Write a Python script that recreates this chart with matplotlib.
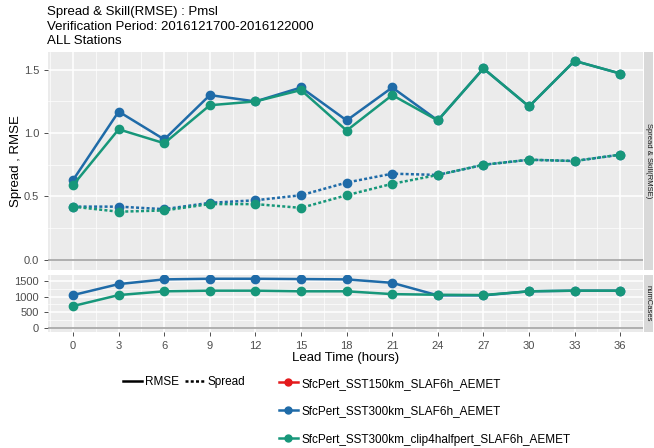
import numpy as np
import matplotlib
matplotlib.use('Agg')
import matplotlib.pyplot as plt
from matplotlib.lines import Line2D
from matplotlib.ticker import MultipleLocator

plt.rcParams['font.family'] = ['Liberation Sans', 'DejaVu Sans']

# ============================================================================
# DATA
# ============================================================================

lead_time = [0, 3, 6, 9, 12, 15, 18, 21, 24, 27, 30, 33, 36]

experiments = ['SfcPert_SST150km_SLAF6h_AEMET',
               'SfcPert_SST300km_SLAF6h_AEMET',
               'SfcPert_SST300km_clip4halfpert_SLAF6h_AEMET']
colors = ['#e41a1c', '#1f6ba8', '#17977a']

rmse_300 = [0.63, 1.17, 0.95, 1.30, 1.25, 1.36, 1.10, 1.36, 1.10, 1.51, 1.21, 1.57, 1.47]
rmse_clip = [0.59, 1.03, 0.92, 1.22, 1.25, 1.34, 1.02, 1.30, 1.10, 1.51, 1.21, 1.57, 1.47]

spread_300 = [0.42, 0.42, 0.40, 0.45, 0.47, 0.51, 0.61, 0.68, 0.67, 0.75, 0.79, 0.78, 0.83]
spread_clip = [0.42, 0.38, 0.39, 0.44, 0.44, 0.41, 0.51, 0.60, 0.67, 0.75, 0.79, 0.78, 0.83]

cases_300 = [1050, 1400, 1550, 1570, 1570, 1560, 1550, 1440, 1040, 1040, 1170, 1190, 1190]
cases_clip = [700, 1050, 1170, 1190, 1190, 1170, 1170, 1080, 1060, 1050, 1170, 1190, 1190]

# ============================================================================
# FIGURE
# ============================================================================

W, H = 654, 448
fig = plt.figure(figsize=(W / 100, H / 100), dpi=100)


def px_axes(x0, y0, x1, y1):
    return fig.add_axes([x0 / W, 1 - y1 / H, (x1 - x0) / W, (y1 - y0) / H])


panel_bg = '#ebebeb'
strip_bg = '#d9d9d9'
tick_col = '#4d4d4d'

ax1 = px_axes(48, 52, 643, 270)
ax2 = px_axes(48, 275, 643, 332)

for ax in (ax1, ax2):
    ax.set_facecolor(panel_bg)
    for s in ax.spines.values():
        s.set_visible(False)
    ax.set_xlim(-1.65, 37.5)
    ax.set_xticks(lead_time)
    ax.xaxis.set_minor_locator(MultipleLocator(1.5))
    ax.grid(which='major', color='white', lw=1.1)
    ax.grid(which='minor', color='white', lw=0.5)
    ax.set_axisbelow(True)
    ax.tick_params(which='major', colors='#333333', labelcolor=tick_col,
                   labelsize=8, length=3, width=0.6)
    ax.tick_params(which='minor', length=0)
    ax.axhline(0, color='#9a9a9a', lw=1.1, zorder=1.5)

mk = dict(marker='o', markersize=6, lw=1.8)

# top panel: RMSE (solid) and spread (dotted)
ax1.plot(lead_time, rmse_300, color=colors[1], **mk)
ax1.plot(lead_time, spread_300, color=colors[1], ls=(0, (1.2, 0.9)), **mk)
ax1.plot(lead_time, rmse_clip, color=colors[2], **mk)
ax1.plot(lead_time, spread_clip, color=colors[2], ls=(0, (1.2, 0.9)), **mk)
ax1.set_ylim(-0.08, 1.64)
ax1.set_yticks([0.0, 0.5, 1.0, 1.5])
ax1.set_yticklabels(['0.0', '0.5', '1.0', '1.5'])
ax1.yaxis.set_minor_locator(MultipleLocator(0.25))
ax1.tick_params(axis='x', labelbottom=False, length=0)
ax1.set_ylabel('Spread , RMSE', fontsize=9.5, labelpad=1)

# bottom panel: number of cases
ax2.plot(lead_time, cases_300, color=colors[1], **mk)
ax2.plot(lead_time, cases_clip, color=colors[2], **mk)
ax2.set_ylim(-128, 1690)
ax2.set_yticks([0, 500, 1000, 1500])
ax2.yaxis.set_minor_locator(MultipleLocator(250))
ax2.set_xlabel('Lead Time (hours)', fontsize=9.5, labelpad=1)

# facet strips on the right
for (y0, y1, label) in [(52, 270, 'Spread & Skill(RMSE)'), (275, 332, 'numCases')]:
    sax = px_axes(644, y0, 653, y1)
    sax.set_facecolor(strip_bg)
    sax.set_xticks([])
    sax.set_yticks([])
    for s in sax.spines.values():
        s.set_visible(False)
    sax.text(0.5, 0.5, label, rotation=-90, ha='center', va='center',
             fontsize=5.5, color='#1a1a1a', transform=sax.transAxes)

# title
fig.text(47 / W, 1 - 12 / H, 'Spread & Skill(RMSE) : Pmsl', fontsize=9.5, va='center')
fig.text(47 / W, 1 - 27 / H, 'Verification Period: 2016121700-2016122000', fontsize=9.5, va='center')
fig.text(47 / W, 1 - 41 / H, 'ALL Stations', fontsize=9.5, va='center')

# legends
lt_handles = [Line2D([], [], color='black', lw=1.8),
              Line2D([], [], color='black', lw=1.8, ls=(0, (1.2, 0.9)))]
leg1 = fig.legend(lt_handles, ['RMSE', 'Spread'], ncol=2, frameon=False,
                  loc='center left', bbox_to_anchor=(112 / W, 1 - 382 / H),
                  fontsize=8.5, handlelength=1.6, handletextpad=0.3,
                  columnspacing=0.5)

col_handles = [Line2D([], [], color=c, marker='o', markersize=5, lw=1.8) for c in colors]
leg2 = fig.legend(col_handles, experiments, frameon=False, loc='upper left',
                  bbox_to_anchor=(268 / W, 1 - 367 / H), fontsize=8.5,
                  handlelength=1.6, handletextpad=0.3, labelspacing=1.35)

fig.savefig('out.png', dpi=100)
